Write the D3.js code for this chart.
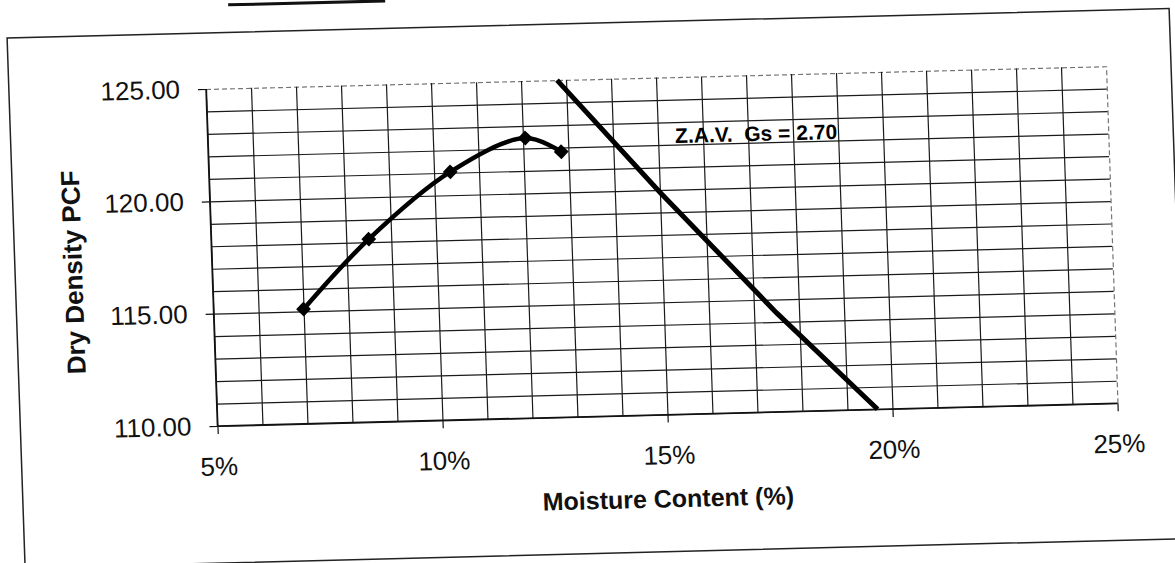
<!DOCTYPE html>
<html>
<head>
<meta charset="utf-8">
<script src="https://cdn.jsdelivr.net/npm/d3@7"></script>
<style>
body { margin: 0; background: #fff; }
svg { display: block; font-family: "Liberation Sans", Arial, sans-serif; }
</style>
</head>
<body>
<div class="chart"></div>
<script>
// compaction test points
var moisture = [7.0, 8.5, 10.36, 12.05, 12.84];
var density = [115.1, 118.14, 121.04, 122.46, 121.81];

// zero air voids line
var zavMoisture = [12.8, 15.0, 17.5, 19.67];
var zavDensity = [125.0, 119.9, 114.4, 110.0];

var xTicks = [5, 10, 15, 20, 25];
var yTicks = [110, 115, 120, 125];
var zavLabel = 'Z.A.V.  Gs = 2.70';

var width = 1175;
var height = 563;
var plotLeft = 206;
var plotTop = 89;
var plotW = 900;
var plotH = 337;
// the scanned page sits a little crooked (rows tilt ~1.45deg, columns ~2deg)
var skew = 'translate(' + plotLeft + ',' + plotTop + ') matrix(1,-0.0253,0.034,1,0,0) translate(' + -plotLeft + ',' + -plotTop + ')';

var svg = d3.select('.chart')
.append('svg')
.attr('width', width)
.attr('height', height);

var page = svg.append('g').attr('transform', skew);

// outer box of the sheet and the stray rule above it
page.append('rect')
.attr('x', 9).attr('y', 33)
.attr('width', 1162).attr('height', 530)
.attr('fill', 'none')
.attr('stroke', '#222')
.attr('stroke-width', 1.5);

page.append('line')
.attr('x1', 231).attr('y1', 5.5)
.attr('x2', 388).attr('y2', 5.5)
.attr('stroke', '#111')
.attr('stroke-width', 3);

var g = page.append('g')
.attr('transform', 'translate(' + plotLeft + ',' + plotTop + ')');

var x = d3.scaleLinear().domain([5, 25]).range([0, plotW]);
var y = d3.scaleLinear().domain([110, 125]).range([plotH, 0]);

// grid, one line per percent and per pcf
g.append('g')
.attr('class', 'grid')
.attr('transform', 'translate(0,' + plotH + ')')
.call(d3.axisBottom(x).tickValues(d3.range(5, 26)).tickSize(-plotH).tickFormat(''));

g.append('g')
.attr('class', 'grid')
.call(d3.axisLeft(y).tickValues(d3.range(110, 126)).tickSize(-plotW).tickFormat(''));

g.selectAll('.grid .domain').remove();
g.selectAll('.grid line')
.attr('stroke', '#1a1a1a')
.attr('stroke-width', 1.2)
.attr('stroke-dasharray', function(d) {
  return (d === 125 || d === 25) ? '5,3' : null;
})
.attr('stroke-opacity', function(d) {
  return (d === 125 || d === 25) ? 0.6 : 1;
});

// left and bottom edges
g.append('line').attr('x1', 0).attr('y1', 0).attr('x2', 0).attr('y2', plotH)
.attr('stroke', '#111').attr('stroke-width', 1.5);
g.append('line').attr('x1', 0).attr('y1', plotH).attr('x2', plotW).attr('y2', plotH)
.attr('stroke', '#111').attr('stroke-width', 1.5);

var xAxis = g.append('g')
.attr('transform', 'translate(0,' + plotH + ')')
.call(d3.axisBottom(x).tickValues(xTicks).tickSize(8).tickPadding(23).tickFormat(function(d) {
  return d + '%';
}));

var yAxis = g.append('g')
.call(d3.axisLeft(y).tickValues(yTicks).tickSize(8).tickPadding(18).tickFormat(d3.format('.2f')));

[xAxis, yAxis].forEach(function(a) {
  a.select('.domain').remove();
  a.selectAll('line').attr('stroke', '#111').attr('stroke-width', 1.2);
  a.selectAll('text')
  .attr('fill', '#111')
  .style('font-size', '26px')
  .style('font-family', '"Liberation Sans", Arial, sans-serif');
});

// axis titles
g.append('text')
.attr('x', 448)
.attr('y', 421)
.attr('dy', '0.35em')
.attr('text-anchor', 'middle')
.style('font-size', '25px')
.style('font-weight', 'bold')
.attr('fill', '#111')
.text('Moisture Content (%)');

g.append('text')
.attr('transform', 'translate(-139,180) rotate(-90)')
.attr('dy', '0.35em')
.attr('text-anchor', 'middle')
.style('font-size', '26px')
.style('font-weight', 'bold')
.attr('fill', '#111')
.text('Dry Density PCF');

// zero air voids line
var zavLine = d3.line()
.x(function(d, i) { return x(zavMoisture[i]); })
.y(function(d) { return y(d); });

g.append('path')
.attr('d', zavLine(zavDensity))
.attr('fill', 'none')
.attr('stroke', '#000')
.attr('stroke-width', 5);

g.append('text')
.attr('x', x(15.38))
.attr('y', y(122.07))
.attr('xml:space', 'preserve')
.style('font-size', '21px')
.style('font-weight', 'bold')
.style('white-space', 'pre')
.attr('fill', '#000')
.text(zavLabel);

// smoothed compaction curve
var curve = d3.line()
.x(function(d, i) { return x(moisture[i]); })
.y(function(d) { return y(d); })
.curve(d3.curveCatmullRom.alpha(0.5));

g.append('path')
.attr('d', curve(density))
.attr('fill', 'none')
.attr('stroke', '#000')
.attr('stroke-width', 4.5)
.attr('stroke-linecap', 'round');

var diamond = d3.symbol().type(d3.symbolSquare).size(110);

g.selectAll('.pt')
.data(density)
.enter()
.append('path')
.attr('class', 'pt')
.attr('d', diamond)
.attr('transform', function(d, i) {
  return 'translate(' + x(moisture[i]) + ',' + y(d) + ') rotate(45)';
})
.attr('fill', '#000');
</script>
</body>
</html>
